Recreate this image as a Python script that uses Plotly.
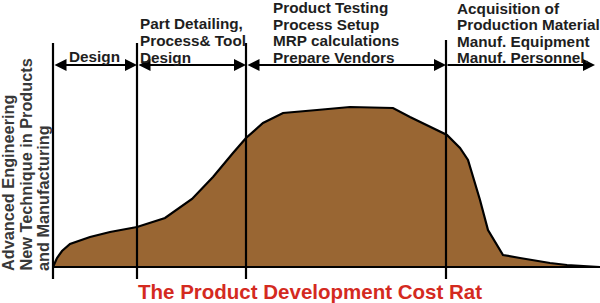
import plotly.graph_objects as go

# ---- data -------------------------------------------------------------
# time along the development cycle (t) and relative cost rate
time = [0, 4, 9, 17, 37, 57, 84, 112, 139, 160, 180, 193, 210, 230, 264, 297,
        340, 357, 394, 407, 415, 427, 435, 450, 467, 497, 514, 547]
cost = [0, 9, 16, 23, 30, 35, 40, 49, 68, 90, 114, 129, 144, 154, 157, 160,
        159, 150, 132, 119, 107, 67, 37, 12, 9, 4, 2, 0]

phase_starts = [0, 84, 193, 393]
phase_end = 542
phase_labels = [
    ["Design"],
    ["Part Detailing,", "Process& Tool", "Design"],
    ["Product Testing", "Process Setup", "MRP calculations", "Prepare Vendors"],
    ["Acquisition of", "Production Material", "Manuf. Equipment", "Manuf. Personnel."],
]
y_label_lines = ["Advanced Engineering", "New Technique in Products", "and Manufacturing"]
title_text = "The Product Development Cost Rat"

# ---- styles / layout --------------------------------------------------
W, H = 600, 303
X0, Y0 = 53, 267          # pixel position of the origin
FILL = "#996633"
TEXT = "#1e1e1e"
RED = "#d42a1f"
FONT = "Liberation Sans"

def px_x(p):  # pixel x -> paper
    return p / W

def px_y(p):  # pixel y -> paper
    return 1 - p / H

fig = go.Figure()
fig.add_trace(go.Scatter(
    x=time, y=cost, mode="lines", fill="tozeroy", fillcolor=FILL,
    line=dict(color="black", width=2.2), hoverinfo="skip", showlegend=False,
))

shapes = []
# baseline
shapes.append(dict(type="line", xref="x", yref="y", x0=time[0], x1=time[-1],
                   y0=0, y1=0, line=dict(color="black", width=2.2)))
# phase boundaries
line_tops = [224, 224, 224, 227]
for s, top in zip(phase_starts, line_tops):
    shapes.append(dict(type="line", xref="x", yref="y", x0=s, x1=s,
                       y0=-12, y1=top, line=dict(color="black", width=2.2)))

annotations = []
ARROW_Y = Y0 - 65
bounds = phase_starts + [phase_end]
for a, b in zip(bounds[:-1], bounds[1:]):
    two_sided = b != phase_end
    annotations.append(dict(
        x=b, y=ARROW_Y, ax=a, ay=ARROW_Y, xref="x", yref="y", axref="x", ayref="y",
        text="", showarrow=True, arrowhead=2, startarrowhead=2,
        arrowside="end+start" if two_sided else "end",
        arrowsize=1.2, startarrowsize=1.2, arrowwidth=2, arrowcolor="black",
        standoff=0, startstandoff=0,
    ))

LBL = dict(family=FONT, size=15.3, color=TEXT, weight="bold")
# (pixel x, anchor, first baseline, line gap)
label_pos = [(94, "center", 61, 17), (138.5, "left", 28, 17),
             (272, "left", 12.5, 16.5), (456, "left", 13, 16.6)]
for lines, (lx, anc, b0, gap) in zip(phase_labels, label_pos):
    for i, t in enumerate(lines):
        base = b0 + i * gap
        annotations.append(dict(
            x=px_x(lx), y=px_y(base - 4.9), xref="paper", yref="paper",
            text=t, showarrow=False, xanchor=anc, yanchor="middle",
            font=LBL, borderpad=0,
        ))

# rotated y-axis label (three columns)
for i, t in enumerate(y_label_lines):
    annotations.append(dict(
        x=px_x(8 + i * 17.5), y=px_y(272), xref="paper", yref="paper",
        text=t, showarrow=False, textangle=-90, xanchor="center", yanchor="bottom",
        font=dict(family=FONT, size=16.3, color="#383838", weight="bold"), borderpad=0,
    ))

annotations.append(dict(
    x=px_x(309.5), y=px_y(291), xref="paper", yref="paper", text=title_text,
    showarrow=False, xanchor="center", yanchor="middle",
    font=dict(family=FONT, size=20.5, color=RED, weight="bold"), borderpad=0,
))

fig.update_layout(
    width=W, height=H, margin=dict(l=0, r=0, t=0, b=0),
    paper_bgcolor="white", plot_bgcolor="white",
    xaxis=dict(range=[-X0, W - X0], visible=False, fixedrange=True),
    yaxis=dict(range=[Y0 - H, Y0], visible=False, fixedrange=True),
    shapes=shapes, annotations=annotations, showlegend=False,
)

fig.write_html("out.html", config={"displayModeBar": False})
